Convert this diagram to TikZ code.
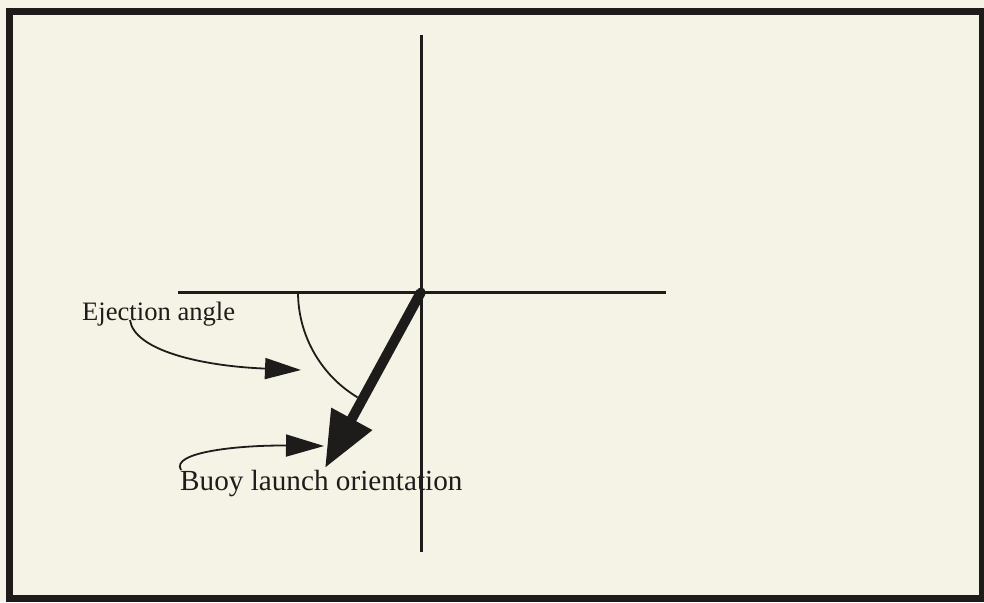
\documentclass[tikz,border=0pt]{standalone}
\usepackage{fontspec}
\setmainfont{Liberation Serif}
\usetikzlibrary{arrows.meta}
\definecolor{paper}{RGB}{244,243,230}
\definecolor{ink}{RGB}{30,28,26}
\begin{document}
\begin{tikzpicture}[x=1pt,y=-1pt,
  axis/.style={draw=ink,line width=3pt},
  thin/.style={draw=ink,line width=1.8pt},
  lbl/.style={inner sep=0pt,text=ink}]
\useasboundingbox (0,0) rectangle (984,602);
\fill[paper] (0,0) rectangle (984,602);
\draw[ink,line width=7pt] (9,12) rectangle (982,598);
% axes
\coordinate (O) at (421,292);
\coordinate (vt) at (421,35);
\coordinate (vb) at (421,552);
\coordinate (hl) at (178,292);
\coordinate (hr) at (666,292);
\draw[axis] (vt) -- (vb);
\draw[axis] (hl) -- (hr);
% labels
\node[lbl,anchor=base west,font=\fontsize{26.6}{30}\selectfont] (ej) at (82,320) {Ejection angle};
\node[lbl,anchor=base west,font=\fontsize{29.2}{33}\selectfont] (buoy) at (180,490) {Buoy launch orientation};
% angle arc
\draw[thin] (O) ++(180:123) arc[start angle=180,end angle=121,radius=123];
% thick arrow
\coordinate (tip) at (325,468);
\draw[ink,line width=10pt,-{Triangle[length=56pt,width=44pt]}] (O) -- (tip);
\fill[ink] (O) circle (4.5pt);
% label arrows
\coordinate (ejtip) at (301,370);
\coordinate (ejs) at (130,320);
\draw[thin,-{Triangle[length=36pt,width=21pt]}] (ejs) .. controls (134,350) and (200,366) .. (ejtip);
\coordinate (btip) at (324,446);
\coordinate (bs) at (181,470);
\draw[thin,-{Triangle[length=38pt,width=22pt]}] (bs) .. controls (170,452) and (240,445) .. (btip);
\end{tikzpicture}
\end{document}
